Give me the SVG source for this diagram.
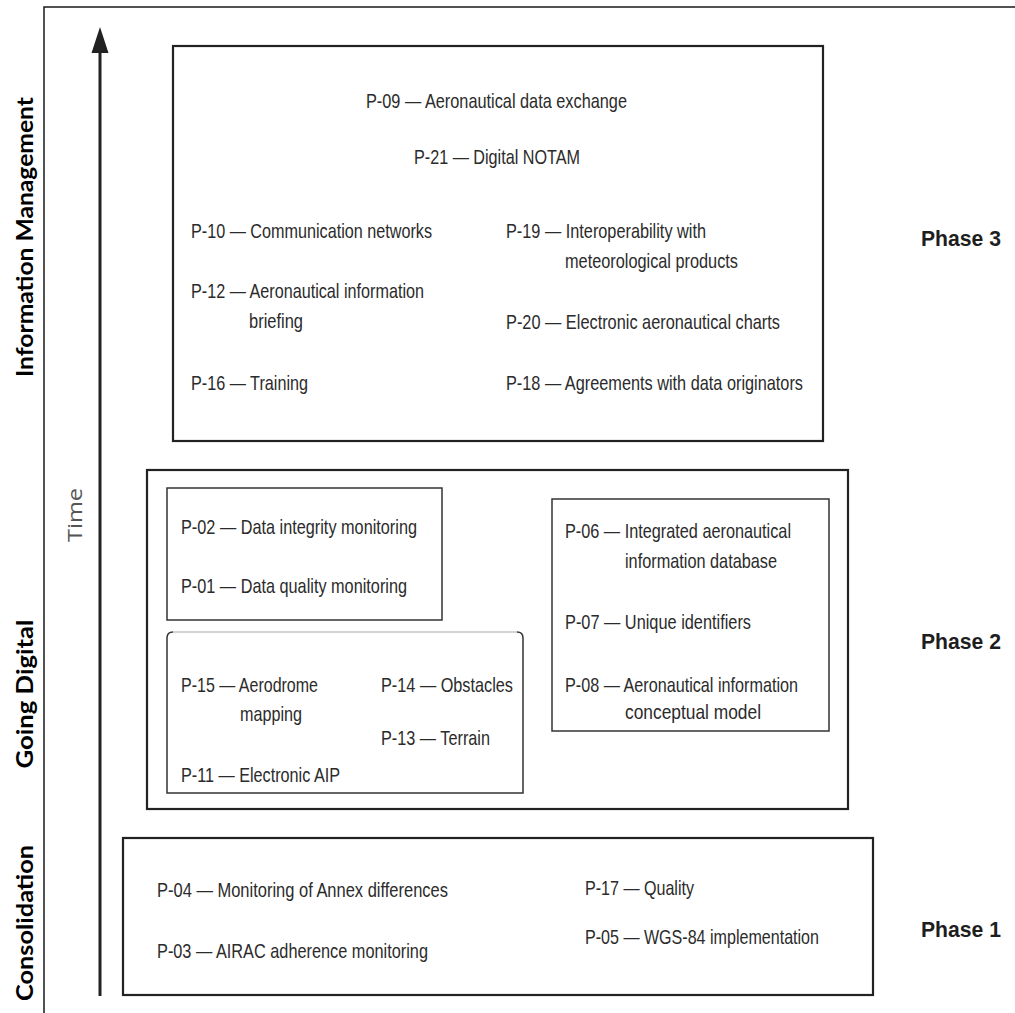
<svg xmlns="http://www.w3.org/2000/svg" width="1015" height="1013" viewBox="0 0 1015 1013">
  <style>
    .frame { fill: none; stroke: #1a1a1a; stroke-width: 1.5; }
    .phase-box { fill: none; stroke: #222; stroke-width: 2.2; }
    .group-box { fill: none; stroke: #333; stroke-width: 1.5; }
    .item { font-family: "Liberation Sans Narrow", "Liberation Sans", Arial, sans-serif; font-size: 21px; fill: #2b2b2b; }
    .phase { font-family: "Liberation Sans", Arial, sans-serif; font-size: 22px; font-weight: bold; fill: #1e1e1e; }
    .track { font-family: Lato, "Open Sans", "Liberation Sans", sans-serif; font-size: 22px; font-weight: bold; fill: #000; }
    .time { font-family: "Open Sans", "Liberation Sans", sans-serif; font-size: 20px; fill: #555; }
    .axis { stroke: #222; stroke-width: 3; fill: none; }
  </style>

  <rect width="1015" height="1013" fill="#fff"/>

  <!-- outer frame: top and left rules -->
  <path class="frame" d="M44,1013 V7 H1015"/>

  <!-- track labels on the left -->
  <g id="track-labels">
    <text class="track" transform="translate(33,237) rotate(-90)" text-anchor="middle" textLength="280" lengthAdjust="spacingAndGlyphs">Information Management</text>
    <text class="track" transform="translate(33,694) rotate(-90)" text-anchor="middle" textLength="149" lengthAdjust="spacingAndGlyphs">Going Digital</text>
    <text class="track" transform="translate(33,923) rotate(-90)" text-anchor="middle" textLength="156" lengthAdjust="spacingAndGlyphs">Consolidation</text>
  </g>

  <!-- time axis -->
  <g id="connectors">
    <line class="axis" x1="100" y1="996" x2="100" y2="48"/>
    <polygon points="100,27 91.5,53 108.5,53" fill="#222"/>
  </g>
  <text class="time" transform="translate(82,515) rotate(-90)" text-anchor="middle" textLength="54" lengthAdjust="spacingAndGlyphs">Time</text>

  <!-- Phase 3 -->
  <g id="phase3">
    <rect class="phase-box" x="173" y="46" width="650" height="395"/>
    <text class="item" x="366" y="108" textLength="261" lengthAdjust="spacingAndGlyphs">P-09 — Aeronautical data exchange</text>
    <text class="item" x="414" y="164" textLength="166" lengthAdjust="spacingAndGlyphs">P-21 — Digital NOTAM</text>
    <text class="item" x="191" y="238" textLength="241" lengthAdjust="spacingAndGlyphs">P-10 — Communication networks</text>
    <text class="item" x="191" y="298" textLength="233" lengthAdjust="spacingAndGlyphs">P-12 — Aeronautical information</text>
    <text class="item" x="249" y="328" textLength="54" lengthAdjust="spacingAndGlyphs">briefing</text>
    <text class="item" x="191" y="390" textLength="117" lengthAdjust="spacingAndGlyphs">P-16 — Training</text>
    <text class="item" x="506" y="238" textLength="200" lengthAdjust="spacingAndGlyphs">P-19 — Interoperability with</text>
    <text class="item" x="565" y="268" textLength="173" lengthAdjust="spacingAndGlyphs">meteorological products</text>
    <text class="item" x="506" y="329" textLength="274" lengthAdjust="spacingAndGlyphs">P-20 — Electronic aeronautical charts</text>
    <text class="item" x="506" y="390" textLength="297" lengthAdjust="spacingAndGlyphs">P-18 — Agreements with data originators</text>
  </g>
  <text class="phase" x="921" y="246" textLength="80" lengthAdjust="spacingAndGlyphs">Phase 3</text>

  <!-- Phase 2 -->
  <g id="phase2">
    <rect class="phase-box" x="147" y="470" width="701" height="339"/>

    <g id="quality-group">
      <rect class="group-box" x="167" y="488" width="275" height="132"/>
      <text class="item" x="181" y="534" textLength="236" lengthAdjust="spacingAndGlyphs">P-02 — Data integrity monitoring</text>
      <text class="item" x="181" y="593" textLength="226" lengthAdjust="spacingAndGlyphs">P-01 — Data quality monitoring</text>
    </g>

    <g id="charting-group">
      <path d="M173,632 H517" stroke="#c4c4c4" stroke-width="1.5" fill="none"/>
      <path class="group-box" d="M173,632 Q167,632 167,638 V793 H523 V638 Q523,632 517,632"/>
      <text class="item" x="181" y="692" textLength="137" lengthAdjust="spacingAndGlyphs">P-15 — Aerodrome</text>
      <text class="item" x="240" y="721" textLength="62" lengthAdjust="spacingAndGlyphs">mapping</text>
      <text class="item" x="181" y="782" textLength="159" lengthAdjust="spacingAndGlyphs">P-11 — Electronic AIP</text>
      <text class="item" x="381" y="692" textLength="132" lengthAdjust="spacingAndGlyphs">P-14 — Obstacles</text>
      <text class="item" x="381" y="745" textLength="109" lengthAdjust="spacingAndGlyphs">P-13 — Terrain</text>
    </g>

    <g id="database-group">
      <rect class="group-box" x="552" y="499" width="277" height="232"/>
      <text class="item" x="565" y="538" textLength="226" lengthAdjust="spacingAndGlyphs">P-06 — Integrated aeronautical</text>
      <text class="item" x="625" y="568" textLength="152" lengthAdjust="spacingAndGlyphs">information database</text>
      <text class="item" x="565" y="629" textLength="186" lengthAdjust="spacingAndGlyphs">P-07 — Unique identifiers</text>
      <text class="item" x="565" y="692" textLength="233" lengthAdjust="spacingAndGlyphs">P-08 — Aeronautical information</text>
      <text class="item" x="625" y="719" textLength="136" lengthAdjust="spacingAndGlyphs">conceptual model</text>
    </g>
  </g>
  <text class="phase" x="921" y="649" textLength="80" lengthAdjust="spacingAndGlyphs">Phase 2</text>

  <!-- Phase 1 -->
  <g id="phase1">
    <rect class="phase-box" x="123" y="838" width="750" height="157"/>
    <text class="item" x="157" y="897" textLength="291" lengthAdjust="spacingAndGlyphs">P-04 — Monitoring of Annex differences</text>
    <text class="item" x="157" y="958" textLength="271" lengthAdjust="spacingAndGlyphs">P-03 — AIRAC adherence monitoring</text>
    <text class="item" x="585" y="895" textLength="109" lengthAdjust="spacingAndGlyphs">P-17 — Quality</text>
    <text class="item" x="585" y="944" textLength="234" lengthAdjust="spacingAndGlyphs">P-05 — WGS-84 implementation</text>
  </g>
  <text class="phase" x="921" y="937" textLength="80" lengthAdjust="spacingAndGlyphs">Phase 1</text>
</svg>
